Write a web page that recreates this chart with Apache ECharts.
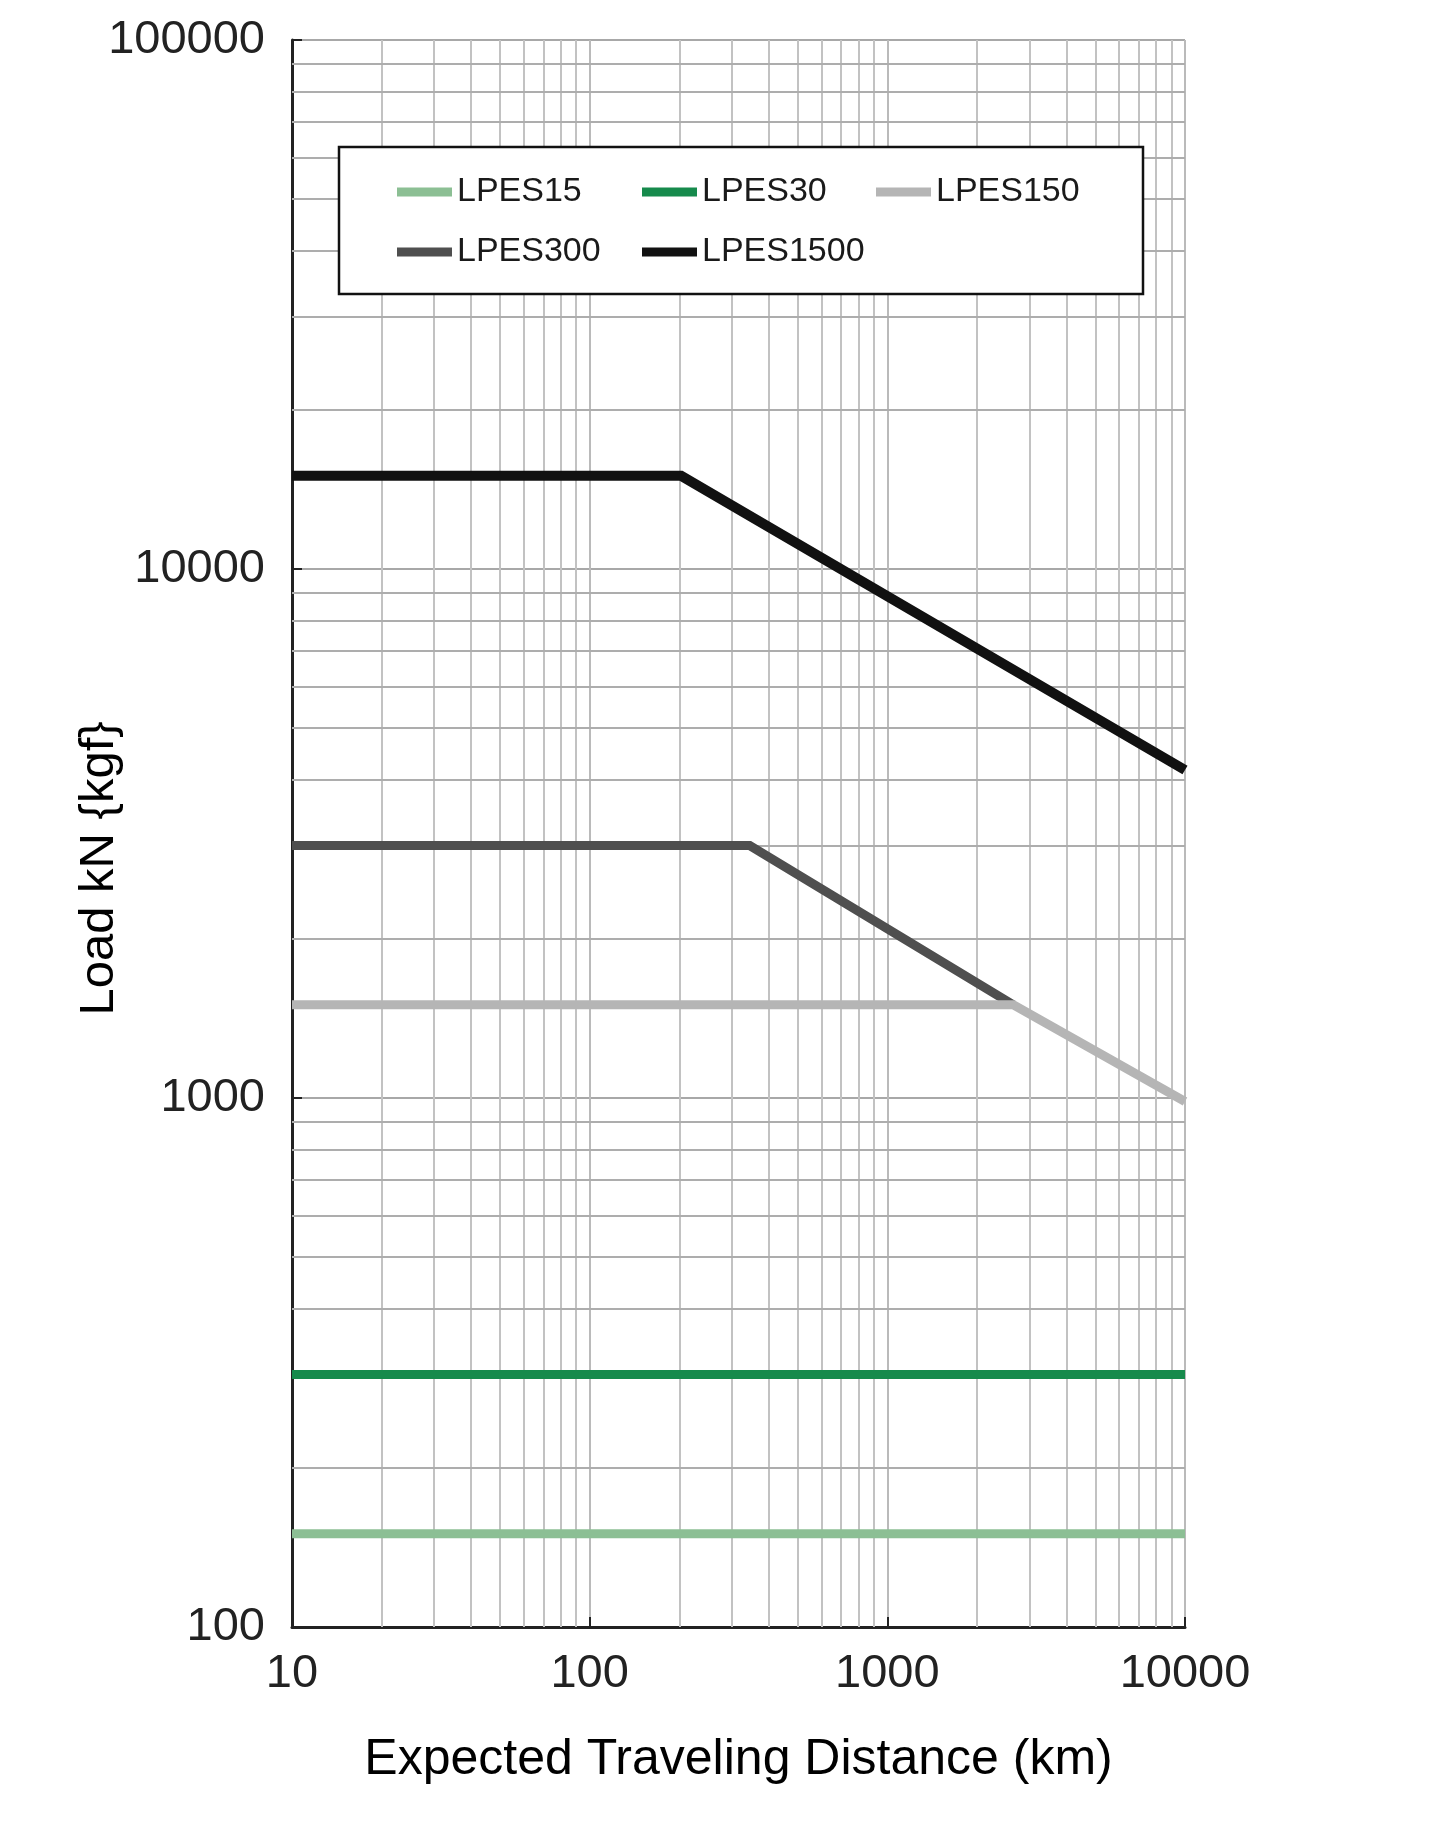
<!DOCTYPE html>
<html>
<head>
  <meta charset="utf-8">
  <script src="https://cdn.jsdelivr.net/npm/echarts@6/dist/echarts.min.js"></script>
  <style>
    html, body { margin: 0; padding: 0; background: #fff; }
  </style>
</head>
<body>
<div id="main" style="width: 1443px; height: 1824px"></div>
<script>
  // [distance km, load kN] break points
  const LPES15 = [[10, 150], [10000, 150]];
  const LPES30 = [[10, 300], [10000, 300]];
  const LPES150 = [[10, 1500], [2650, 1500], [10000, 985]];
  const LPES300 = [[10, 3000], [345, 3000], [2650, 1500]];
  const LPES1500 = [[10, 15000], [203, 15000], [10000, 4170]];

  // minor grid lines of the log paper
  const xMinor = [20, 30, 40, 50, 60, 70, 80, 90, 200, 300, 400, 500, 600, 700, 800, 900,
    2000, 3000, 4000, 5000, 6000, 7000, 8000, 9000];
  const yMinor = [200, 300, 400, 500, 600, 700, 800, 900, 2000, 3000, 4000, 5000, 6000, 7000, 8000, 9000,
    20000, 30000, 40000, 50000, 60000, 70000, 80000, 90000];

  const colors = ['#8cbf94', '#168a4c', '#b5b5b5', '#4f4f4f', '#111111'];

  const tickFont = '"Liberation Sans", Arial, sans-serif';
  const titleFont = '"Liberation Sans", Arial, sans-serif';

  const myChart = echarts.init(document.getElementById('main'));

  function lineSeries(name, data, color, width) {
    return {
      name: name,
      type: 'line',
      data: data,
      symbol: 'none',
      color: color,
      lineStyle: { color: color, width: width, cap: 'butt', join: 'miter' },
      z: 3
    };
  }

  // legend laid out as a small table, one legend per cell
  const legendCells = [
    { name: 'LPES15', left: 397, top: 175 },
    { name: 'LPES30', left: 642, top: 175 },
    { name: 'LPES150', left: 876, top: 175 },
    { name: 'LPES300', left: 397, top: 235 },
    { name: 'LPES1500', left: 642, top: 235 }
  ];

  myChart.setOption({
    animation: false,
    backgroundColor: '#fff',
    grid: { left: 292, right: 258, top: 40, bottom: 197 },
    legend: legendCells.map(c => ({
      data: [c.name],
      left: c.left,
      top: c.top,
      padding: 0,
      icon: 'rect',
      itemWidth: 55,
      itemHeight: 9,
      selectedMode: false,
      z: 12,
      textStyle: { fontFamily: titleFont, fontSize: 34, color: '#1a1a1a', lineHeight: 34 }
    })),
    graphic: [{
      type: 'rect',
      shape: { x: 339, y: 147, width: 804, height: 147 },
      style: { fill: '#fff', stroke: '#111', lineWidth: 2.5 },
      z: 10
    }],
    xAxis: {
      type: 'log',
      logBase: 10,
      min: 10,
      max: 10000,
      name: 'Expected Traveling Distance (km)',
      nameLocation: 'middle',
      nameGap: 108,
      nameMoveOverlap: false,
      nameTextStyle: { fontFamily: titleFont, fontSize: 50, color: '#000' },
      axisLine: { lineStyle: { color: '#222', width: 3 } },
      axisTick: { inside: true, length: 10, lineStyle: { color: '#222', width: 2 } },
      axisLabel: { fontFamily: tickFont, fontSize: 47, color: '#222', margin: 24, formatter: v => String(v) },
      splitLine: { show: true, lineStyle: { color: '#bababa', width: 2 } }
    },
    yAxis: {
      type: 'log',
      logBase: 10,
      min: 100,
      max: 100000,
      name: 'Load kN {kgf}',
      nameLocation: 'middle',
      nameRotate: 90,
      nameGap: 168,
      nameMoveOverlap: false,
      nameTextStyle: { fontFamily: titleFont, fontSize: 49, color: '#000', padding: [0, 70, 0, 0] },
      axisLine: { lineStyle: { color: '#222', width: 3 } },
      axisTick: { inside: true, length: 10, lineStyle: { color: '#222', width: 2 } },
      axisLabel: { fontFamily: tickFont, fontSize: 47, color: '#222', margin: 27, formatter: v => String(v) },
      splitLine: { show: true, lineStyle: { color: '#a8a8a8', width: 2 } }
    },
    series: [
      {
        name: 'grid',
        type: 'line',
        data: [],
        silent: true,
        z: 1,
        markLine: {
          silent: true,
          z: 1,
          symbol: 'none',
          label: { show: false },
          animation: false,
          data: xMinor.map(v => ({ xAxis: v, lineStyle: { color: '#c2c2c2', width: 2, type: 'solid' } }))
            .concat(yMinor.map(v => ({ yAxis: v, lineStyle: { color: '#adadad', width: 2, type: 'solid' } })))
        }
      },
      lineSeries('LPES15', LPES15, colors[0], 9),
      lineSeries('LPES30', LPES30, colors[1], 9),
      lineSeries('LPES300', LPES300, colors[3], 9),
      lineSeries('LPES1500', LPES1500, colors[4], 10),
      lineSeries('LPES150', LPES150, colors[2], 9)
    ]
  });
</script>
</body>
</html>
